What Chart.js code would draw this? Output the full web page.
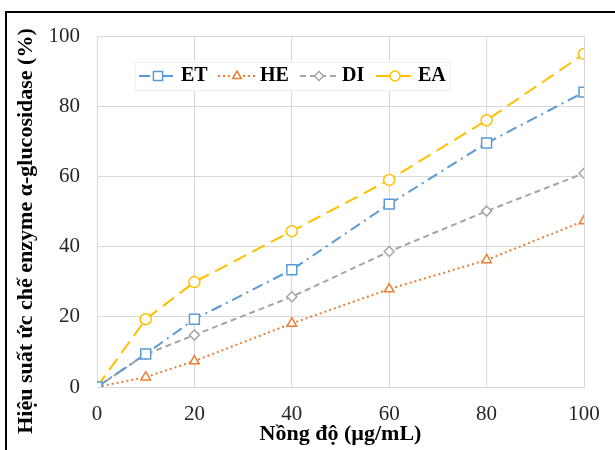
<!DOCTYPE html>
<html>
<head>
<meta charset="utf-8">
<script src="https://cdn.jsdelivr.net/npm/chart.js"></script>
<style>
  html, body { margin: 0; padding: 0; background: #fff; }
  #wrap { position: relative; width: 615px; height: 450px; overflow: hidden; }
  #frame { position: absolute; left: 5px; top: 11px; width: 620px; height: 450px;
           border-left: 2px solid #000; border-top: 2px solid #000; box-sizing: border-box; }
  canvas { position: absolute; left: 0; top: 0; }
</style>
</head>
<body>
<div id="wrap">
  <canvas id="chart" width="615" height="450"></canvas>
  <div id="frame"></div>
</div>
<script>
// concentrations (µg/mL)
const concentrations = [0, 10, 20, 40, 60, 80, 100];

// inhibition (%)
const etValues = [0, 9.4, 19.3, 33.4, 52.1, 69.5, 84.0];
const heValues = [0, 2.8, 7.4, 18.1, 27.9, 36.2, 47.3];
const diValues = [0, 9.3, 14.8, 25.7, 38.6, 50.1, 60.9];
const eaValues = [0, 19.3, 29.9, 44.4, 59.0, 76.0, 94.9];

const xTicks = [0, 20, 40, 60, 80, 100];
const yTicks = [0, 20, 40, 60, 80, 100];

const seriesNames = ["ET", "HE", "DI", "EA"];

const serif = "'Liberation Serif', 'Times New Roman', serif";

function points(values) {
  return concentrations.map((c, i) => ({ x: c, y: values[i] }));
}

function makeSet(label, values, color, style, radius, dash) {
  return {
    label: label,
    data: points(values),
    borderColor: color,
    backgroundColor: "#fff",
    pointBackgroundColor: "#fff",
    pointBorderColor: color,
    pointBorderWidth: 1.5,
    pointStyle: style,
    pointRadius: radius,
    borderWidth: 2,
    borderDash: dash,
    borderCapStyle: "butt",
    tension: 0
  };
}

const datasets = [
  makeSet(seriesNames[0], etValues, "#5B9BD5", "rect", 7, [11, 5, 2, 5]),
  makeSet(seriesNames[1], heValues, "#ED7D31", "triangle", 5.5, [2, 3]),
  makeSet(seriesNames[2], diValues, "#A5A5A5", "rectRot", 5, [6, 4]),
  makeSet(seriesNames[3], eaValues, "#FFC000", "circle", 5.5, [14, 7])
];

// legend drawn inside the plot, like the original
const insideLegend = {
  id: "insideLegend",
  afterDraw(chart) {
    const ctx = chart.ctx;
    ctx.save();
    ctx.fillStyle = "#fff";
    ctx.fillRect(135, 62, 315, 28);
    ctx.strokeStyle = "#f0f0f0";
    ctx.lineWidth = 1;
    ctx.strokeRect(135.5, 62.5, 315, 28);

    const starts = [139, 218, 300, 376];
    const y = 76;
    chart.data.datasets.forEach((ds, i) => {
      const x0 = starts[i];
      ctx.strokeStyle = ds.borderColor;
      ctx.lineWidth = 2;
      ctx.setLineDash(ds.borderDash);
      ctx.beginPath();
      ctx.moveTo(x0, y);
      ctx.lineTo(x0 + 37, y);
      ctx.stroke();
      ctx.setLineDash([]);
      ctx.fillStyle = "#fff";
      ctx.strokeStyle = ds.borderColor;
      ctx.lineWidth = 1.5;
      Chart.helpers.drawPoint(ctx, {
        pointStyle: ds.pointStyle,
        radius: ds.pointRadius - 0.5,
        borderWidth: 1.5,
        rotation: 0
      }, x0 + 19, y);
      ctx.fillStyle = "#000";
      ctx.font = "bold 20px " + serif;
      ctx.textBaseline = "middle";
      ctx.textAlign = "left";
      ctx.fillText(ds.label, x0 + 42, y);
    });

    // y axis title
    ctx.translate(26, 231);
    ctx.rotate(-Math.PI / 2);
    ctx.font = "bold 22px " + serif;
    ctx.textAlign = "center";
    ctx.textBaseline = "middle";
    ctx.fillText("Hiệu suất ức chế enzyme α-glucosidase (%)", 0, 0);
    ctx.restore();
  }
};

new Chart(document.getElementById("chart").getContext("2d"), {
  type: "line",
  data: { datasets: datasets },
  options: {
    responsive: false,
    animation: false,
    layout: { padding: { top: 36, right: 31, left: 0, bottom: 0 } },
    plugins: {
      legend: { display: false },
      tooltip: { enabled: false }
    },
    scales: {
      x: {
        type: "linear",
        min: 0,
        max: 100,
        afterBuildTicks: (s) => { s.ticks = xTicks.map(v => ({ value: v })); },
        afterFit: (s) => { s.height = 63; },
        grid: { color: "#d9d9d9", drawTicks: false },
        border: { color: "#d9d9d9" },
        ticks: { padding: 15, color: "#262626", font: { family: serif, size: 21 } },
        title: {
          display: true,
          text: "Nồng độ (µg/mL)",
          color: "#000",
          font: { family: serif, size: 22, weight: "bold" },
          padding: { top: 0, bottom: 2 }
        }
      },
      y: {
        min: 0,
        max: 100,
        afterBuildTicks: (s) => { s.ticks = yTicks.map(v => ({ value: v })); },
        afterFit: (s) => { s.width = 97; },
        grid: { color: "#d9d9d9", drawTicks: false },
        border: { color: "#d9d9d9" },
        ticks: { padding: 17, color: "#262626", font: { family: serif, size: 21 } }
      }
    }
  },
  plugins: [insideLegend]
});
</script>
</body>
</html>
